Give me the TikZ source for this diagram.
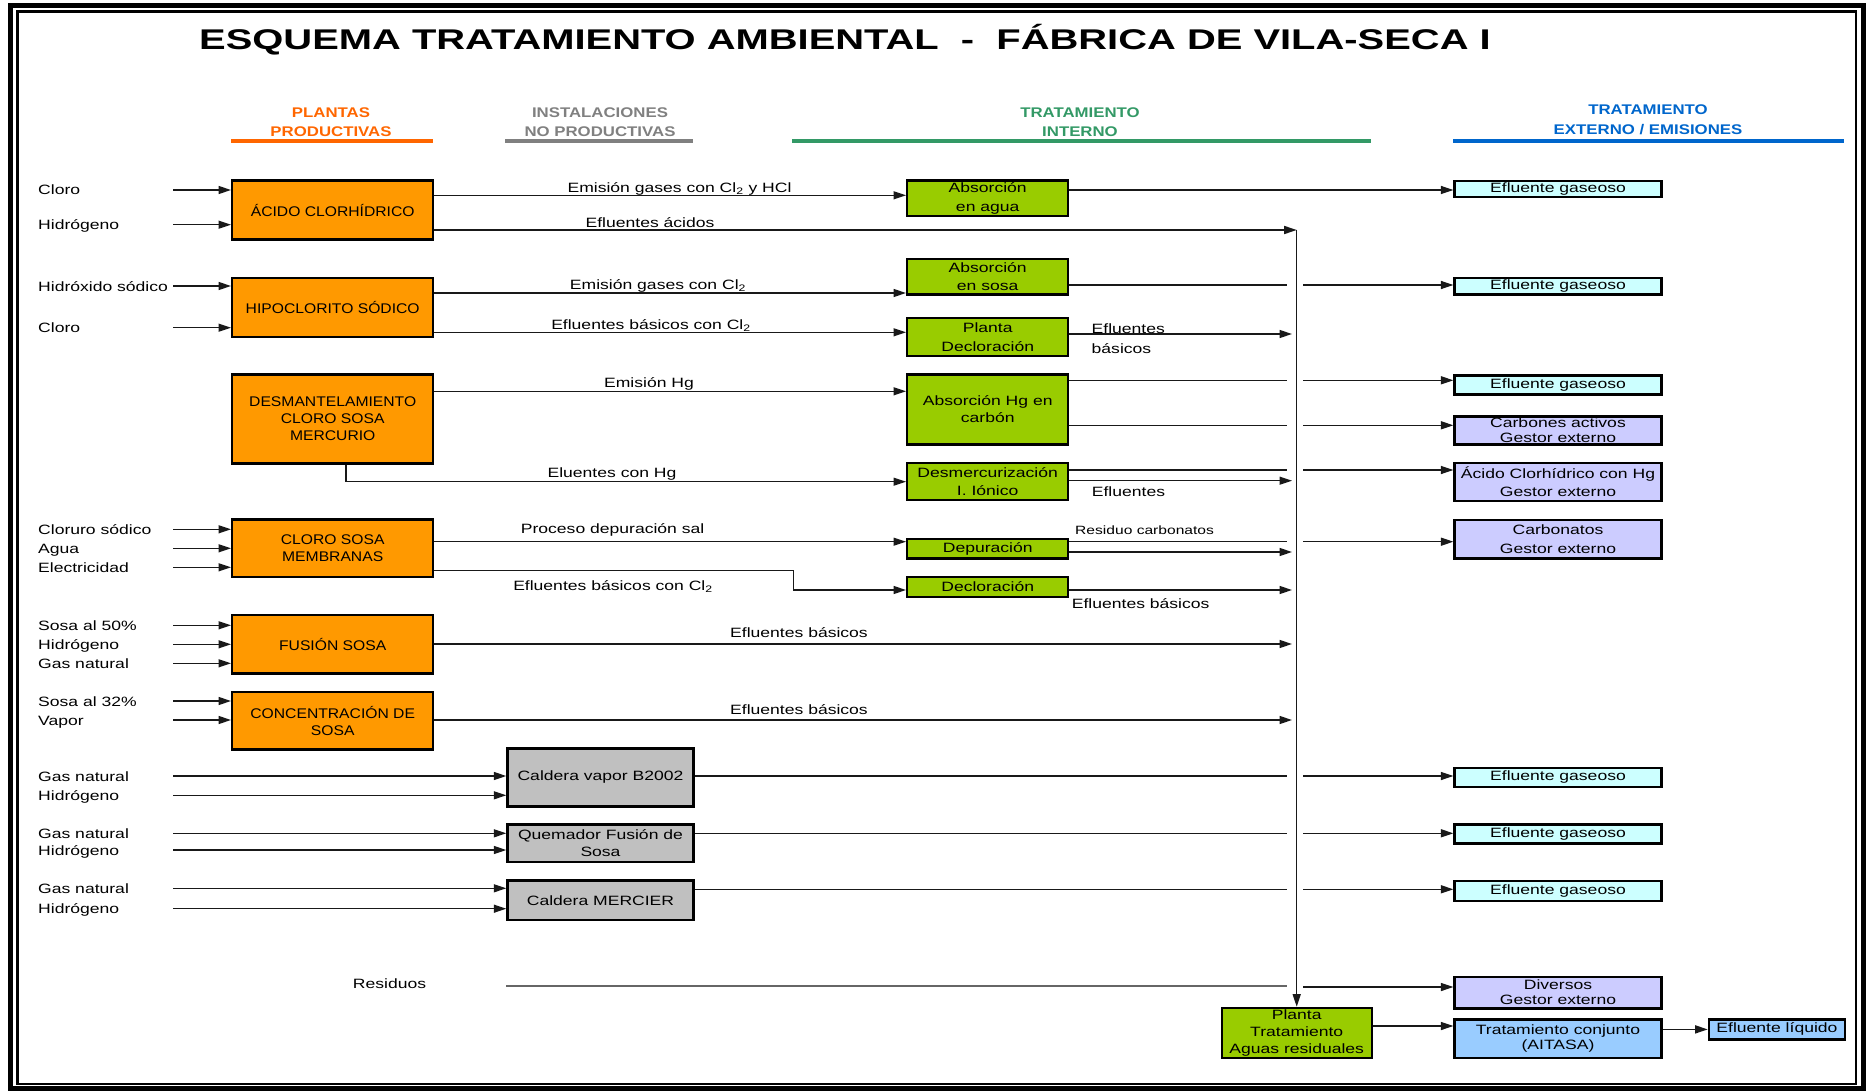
\documentclass[tikz,border=0pt]{standalone}
\usepackage{fontspec}
\setmainfont{Liberation Sans}[FakeStretch=1.3]
\newfontfamily\plantfont{Liberation Sans}[FakeStretch=1.12]
\newfontfamily\hdrfont{Liberation Sans}[FakeStretch=1.2]
\newfontfamily\titlefont{Liberation Sans}[FakeStretch=1.4]
\usetikzlibrary{arrows.meta}

\definecolor{plantorange}{HTML}{FF9900}
\definecolor{internogreen}{HTML}{99CC00}
\definecolor{instgray}{HTML}{C0C0C0}
\definecolor{gascyan}{HTML}{CCFFFF}
\definecolor{gestorlila}{HTML}{CCCCFF}
\definecolor{aitasablue}{HTML}{99CCFF}
\definecolor{hdrorange}{HTML}{FF6600}
\definecolor{hdrgray}{HTML}{808080}
\definecolor{hdrgreen}{HTML}{339966}
\definecolor{hdrblue}{HTML}{0066CC}

\tikzset{
    boxsize/.style 2 args={minimum width=#1pt, minimum height=#2pt},
    box/.style={draw=black, line width=2.4pt, anchor=north west, align=center,
        inner sep=1pt, font=\fontsize{13.5}{18.5}\selectfont},
    plant/.style={box, fill=plantorange, font=\plantfont\fontsize{14}{17}\selectfont},
    instal/.style={box, fill=instgray, font=\fontsize{13.5}{16.7}\selectfont},
    interno/.style={box, fill=internogreen},
    gasbox/.style={box, fill=gascyan, line width=2.2pt},
    gestor/.style={box, fill=gestorlila, line width=2.2pt, font=\fontsize{13.5}{18.5}\selectfont},
    conjbox/.style={box, fill=aitasablue, line width=2.2pt},
    inlbl/.style={anchor=west, inner sep=0pt, text height=11pt, text depth=1pt,
        font=\fontsize{13.5}{16}\selectfont},
    flowlbl/.style={anchor=base, inner sep=0pt, font=\fontsize{13.5}{20}\selectfont},
    flow/.style={line width=1.4pt, black!90},
    arr/.style={flow, -{Triangle[length=12.5pt, width=8pt]}},
    hdr/.style={anchor=north, inner sep=0pt, align=center,
        font=\hdrfont\bfseries\fontsize{14}{19.4}\selectfont},
    hdrbar/.style={line width=3.7pt},
}

\begin{document}
\begin{tikzpicture}[x=1pt, y=-1pt]
    \useasboundingbox (0,0) rectangle (1868,1091);
    \draw[line width=5pt] (10,5.5) rectangle (1863,1088.5);
    \draw[line width=2.5pt] (17.5,11.3) rectangle (1856,1084);

    \node[anchor=base, inner sep=0pt, font=\titlefont\bfseries\fontsize{28.5}{32}\selectfont] (title)
        at (845,49.3) {ESQUEMA TRATAMIENTO AMBIENTAL\ \ -\ \ FÁBRICA DE VILA-SECA I};

    \node[hdr, text=hdrorange] (hPlantas) at (331,107.3) {PLANTAS\\PRODUCTIVAS};
    \node[hdr, text=hdrgray] (hInstal) at (600,107.3) {INSTALACIONES\\NO PRODUCTIVAS};
    \node[hdr, text=hdrgreen] (hInterno) at (1080,107.3) {TRATAMIENTO\\INTERNO};
    \node[hdr, text=hdrblue, font=\hdrfont\bfseries\fontsize{14}{20}\selectfont] (hExterno)
        at (1648,105) {TRATAMIENTO\\EXTERNO / EMISIONES};
    \draw[hdrbar, hdrorange] (231,141) -- (433,141);
    \draw[hdrbar, hdrgray] (505,141) -- (693,141);
    \draw[hdrbar, hdrgreen] (792,141) -- (1371,141);
    \draw[hdrbar, hdrblue] (1453,141) -- (1844,141);

    \node[plant, boxsize={201}{59}] (acido) at (231,179.3) {ÁCIDO CLORHÍDRICO};
    \node[plant, boxsize={201}{59.3}] (hipo) at (231,276.7) {HIPOCLORITO SÓDICO};
    \node[plant, boxsize={201}{89}] (desmant) at (231,373.3) {DESMANTELAMIENTO\\CLORO SOSA\\MERCURIO};
    \node[plant, boxsize={201}{57.7}] (membranas) at (231,518.3) {CLORO SOSA\\MEMBRANAS};
    \node[plant, boxsize={201}{58.3}] (fusion) at (231,614) {FUSIÓN SOSA};
    \node[plant, boxsize={201}{57.6}] (concent) at (231,690.7) {CONCENTRACIÓN DE\\SOSA};

    \node[instal, boxsize={186}{58}] (calderaB) at (506.3,747.3) {Caldera vapor B2002};
    \node[instal, boxsize={186}{37.7}] (quemador) at (506.3,823.3) {Quemador Fusión de\\Sosa};
    \node[instal, boxsize={186}{39.7}] (mercier) at (506.3,879.3) {Caldera MERCIER};

    \node[interno, boxsize={161}{35.7}] (absAgua) at (906,179.3) {Absorción\\en agua};
    \node[interno, boxsize={161}{35.6}] (absSosa) at (906,257.7) {Absorción\\en sosa};
    \node[interno, boxsize={161}{38.3}] (plantaDecl) at (906,316.7) {Planta\\Decloración};
    \node[interno, boxsize={161}{70}, font=\fontsize{13.5}{17}\selectfont] (absHg)
        at (906,373.3) {Absorción Hg en\\carbón};
    \node[interno, boxsize={161}{37.3}] (desmerc) at (906,461.7) {Desmercurización\\I. Iónico};
    \node[interno, boxsize={161}{19.6}] (depur) at (906,537.7) {Depuración};
    \node[interno, boxsize={161}{20}] (decl) at (906,575.7) {Decloración};
    \node[interno, boxsize={150}{50}, font=\fontsize{13.5}{16.7}\selectfont] (ptar)
        at (1220.5,1006.7) {Planta\\Tratamiento\\Aguas residuales};

    \node[gasbox, boxsize={207}{16}] (eg1) at (1453.4,180) {Efluente gaseoso};
    \node[gasbox, boxsize={207}{16.7}] (eg2) at (1453.4,276.7) {Efluente gaseoso};
    \node[gasbox, boxsize={207}{19}] (eg3) at (1453.4,374.3) {Efluente gaseoso};
    \node[gestor, boxsize={207}{28}, inner ysep=0pt, font=\fontsize{13.5}{15}\selectfont] (carbAct)
        at (1453.4,415.3) {Carbones activos\\Gestor externo};
    \node[gestor, boxsize={207}{38.3}] (hclHg) at (1453.4,461.7) {Ácido Clorhídrico con Hg\\Gestor externo};
    \node[gestor, boxsize={207}{38.3}] (carbonatos) at (1453.4,519) {Carbonatos\\Gestor externo};
    \node[gasbox, boxsize={207}{19.3}] (eg4) at (1453.4,766.7) {Efluente gaseoso};
    \node[gasbox, boxsize={207}{19}] (eg5) at (1453.4,823.3) {Efluente gaseoso};
    \node[gasbox, boxsize={207}{20}] (eg6) at (1453.4,880) {Efluente gaseoso};
    \node[gestor, boxsize={207}{31.6}, font=\fontsize{13.5}{15}\selectfont] (diversos)
        at (1453.4,975.7) {Diversos\\Gestor externo};
    \node[conjbox, boxsize={207}{38.4}, font=\fontsize{13.5}{15.6}\selectfont] (conjunto)
        at (1453.4,1018.3) {Tratamiento conjunto\\(AITASA)};
    \node[conjbox, boxsize={136.3}{20}] (efLiq) at (1707.7,1018.3) {Efluente líquido};

    \coordinate (inx) at (173,0);
    \coordinate (colTop) at (ptar.north |- 0,230);
    \coordinate (colIn) at (1292,0);
    \coordinate (hopL) at (1287,0);
    \coordinate (hopR) at (1303,0);

    \foreach \lbl/\yy/\dst [count=\i] in {Cloro/190/acido, Hidrógeno/224.7/acido,
            Hidróxido sódico/286/hipo, Cloro/327.7/hipo,
            Cloruro sódico/529.3/membranas, Agua/548.3/membranas, Electricidad/567.3/membranas,
            Sosa al 50\%/625.3/fusion, Hidrógeno/644.3/fusion, Gas natural/663.3/fusion,
            Sosa al 32\%/701/concent, Vapor/720/concent,
            Gas natural/776/calderaB, Hidrógeno/795.3/calderaB,
            Gas natural/833.3/quemador, Hidrógeno/850/quemador,
            Gas natural/888.3/mercier, Hidrógeno/908.7/mercier} {
        \node[inlbl] (in\i) at (38,\yy) {\lbl};
        \draw[arr] (in\i -| inx) -- (in\i -| \dst.west);
    }

    \draw[arr] (acido.east |- 0,195.3) -- (absAgua.west |- 0,195.3);
    \draw[arr] (acido.east |- 0,230) -- (colTop);
    \draw[arr] (hipo.east |- 0,293) -- (absSosa.west |- 0,293);
    \draw[arr] (hipo.east |- 0,332.3) -- (plantaDecl.west |- 0,332.3);
    \draw[arr] (desmant.east |- 0,391.3) -- (absHg.west |- 0,391.3);
    \draw[arr] (desmant.south -| 346,0) |- (desmerc.west |- 0,481.7);
    \draw[arr] (membranas.east |- 0,541.7) -- (depur.west |- 0,541.7);
    \draw[arr] (membranas.east |- 0,570.7) -| (793.7,590) -- (decl.west |- 0,590);

    \node[flowlbl] (lGasHcl) at (679.5,192.5) {Emisión gases con Cl\textsubscript{2} y HCl};
    \node[flowlbl] (lAcidos) at (650,228) {Efluentes ácidos};
    \node[flowlbl] (lGasCl) at (658,289.5) {Emisión gases con Cl\textsubscript{2}};
    \node[flowlbl] (lBasCl) at (651,329.5) {Efluentes básicos con Cl\textsubscript{2}};
    \node[flowlbl] (lEmHg) at (649,387) {Emisión Hg};
    \node[flowlbl] (lEluHg) at (612,477) {Eluentes con Hg};
    \node[flowlbl] (lDepSal) at (612.6,533.5) {Proceso depuración sal};
    \node[flowlbl] (lBasClB) at (613,590) {Efluentes básicos con Cl\textsubscript{2}};
    \node[flowlbl] (lBasFus) at (799,637) {Efluentes básicos};
    \node[flowlbl] (lBasConc) at (799,714) {Efluentes básicos};
    \node[flowlbl] (lResid) at (389.5,988) {Residuos};

    \draw[arr] (absAgua.east |- 0,190) -- (eg1.west |- 0,190);
    \foreach \src/\dst/\yy in {absSosa/eg2/285, absHg/eg3/380.3, absHg/carbAct/425.3,
            desmerc/hclHg/470, depur/carbonatos/541.7, calderaB/eg4/776,
            quemador/eg5/833.3, mercier/eg6/889.3} {
        \draw[flow] (\src.east |- 0,\yy) -- (hopL |- 0,\yy);
        \draw[arr] (hopR |- 0,\yy) -- (\dst.west |- 0,\yy);
    }
    \foreach \src/\yy in {plantaDecl/334, desmerc/480.7, depur/552, decl/590,
            fusion/644, concent/720} {
        \draw[arr] (\src.east |- 0,\yy) -- (colIn |- 0,\yy);
    }
    \draw[flow, line width=1.8pt, black!60] (calderaB.west |- 0,986) -- (hopL |- 0,986);
    \draw[arr] (hopR |- 0,987) -- (diversos.west |- 0,987);
    \draw[arr] (colTop) -- (ptar.north);
    \draw[arr] (ptar.east |- 0,1026) -- (conjunto.west |- 0,1026);
    \draw[arr] (conjunto.east |- efLiq.west) -- (efLiq.west);

    \node[flowlbl, anchor=north west, align=left] (lDeclBas) at (1091.5,323.3) {Efluentes\\básicos};
    \node[flowlbl, anchor=base west] (lDesmEf) at (1091.7,496) {Efluentes};
    \node[flowlbl, anchor=base west, font=\fontsize{12}{14}\selectfont] (lResCarb)
        at (1075,534.3) {Residuo carbonatos};
    \node[flowlbl, anchor=base west] (lDeclEf) at (1071.7,608) {Efluentes básicos};
\end{tikzpicture}
\end{document}
